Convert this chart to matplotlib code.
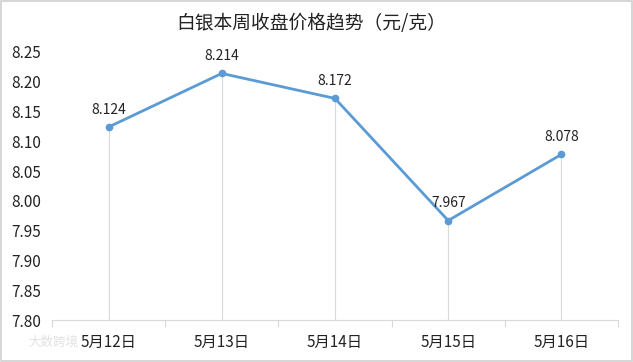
import matplotlib.pyplot as plt
from matplotlib.patches import Rectangle

plt.rcParams['font.family'] = ['Noto Sans CJK SC', 'DejaVu Sans']

dates = ['5月12日', '5月13日', '5月14日', '5月15日', '5月16日']
prices = [8.124, 8.214, 8.172, 7.967, 8.078]
y_ticks = [7.80, 7.85, 7.90, 7.95, 8.00, 8.05, 8.10, 8.15, 8.20, 8.25]

line_color = '#5B9BD5'
grid_color = '#D9D9D9'

fig = plt.figure(figsize=(6.33, 3.62), dpi=100)
ax = fig.add_axes([0.0821, 0.116, 0.8942, 0.7404])

x = list(range(len(dates)))

# drop lines from each point to the axis
ax.vlines(x, y_ticks[0], prices, colors=grid_color, linewidth=0.8, zorder=1)
ax.plot(x, prices, color=line_color, linewidth=2, marker='o', markersize=4.5, zorder=3)

for xi, v in zip(x, prices):
    ax.annotate(f'{v:.3f}', (xi, v), xytext=(0, 12.5), textcoords='offset points',
                ha='center', va='center', fontsize=10, color='#222222')

ax.set_xlim(-0.5, len(dates) - 0.5)
ax.set_ylim(y_ticks[0], y_ticks[-1])
ax.set_yticks(y_ticks)
ax.set_yticklabels([f'{t:.2f}' for t in y_ticks])
ax.set_xticks(x)
ax.set_xticklabels(dates)
ax.set_xticks([i - 0.5 for i in range(len(dates) + 1)], minor=True)

ax.tick_params(axis='y', length=0, pad=8, labelsize=11, colors='#222222')
ax.tick_params(axis='x', which='major', length=0, pad=10, labelsize=11, colors='#222222')
ax.tick_params(axis='x', which='minor', length=5, width=0.8, color=grid_color)

for side in ['top', 'right', 'left']:
    ax.spines[side].set_visible(False)
ax.spines['bottom'].set_color(grid_color)
ax.spines['bottom'].set_linewidth(0.8)

fig.text(0.491, 1 - 23 / 362, '白银本周收盘价格趋势（元/克）', ha='center', va='center',
         fontsize=13.5, color='#222222')

# faint watermark
fig.text(0.045, 1 - 342 / 362, '大数跨境', ha='left', va='center',
         fontsize=9, color='#E2E2E2')

fig.patches.append(Rectangle((0.001, 0.002), 0.997, 0.995, transform=fig.transFigure,
                             fill=False, edgecolor='#D0D0D0', linewidth=1.2))

fig.savefig('out.png', dpi=100)
